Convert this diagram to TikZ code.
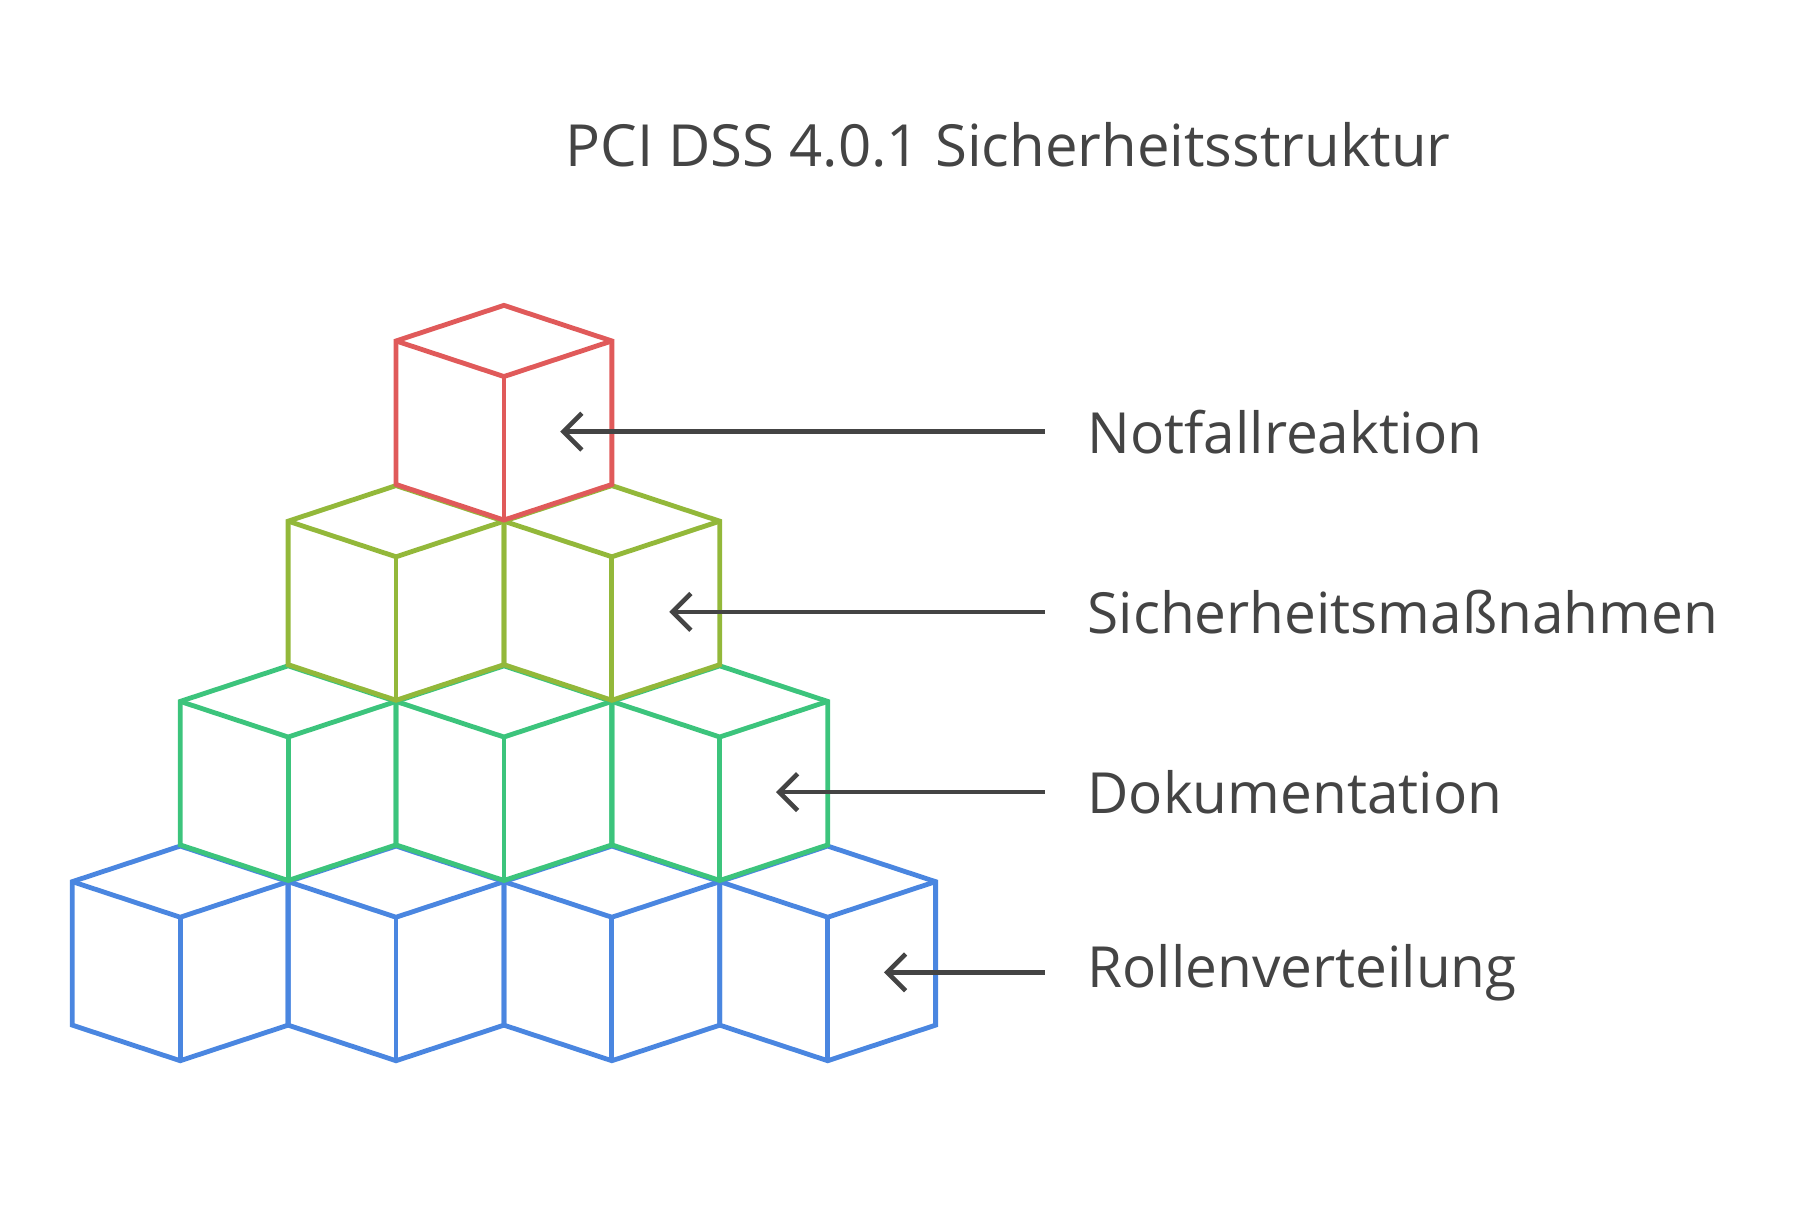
\documentclass[tikz,border=0pt]{standalone}
\usepackage{fontspec}
\setmainfont{Open Sans}
\usetikzlibrary{arrows.meta}
\definecolor{cred}{HTML}{E05A5A}
\definecolor{cyel}{HTML}{93B83A}
\definecolor{cgrn}{HTML}{3CC47C}
\definecolor{cblu}{HTML}{4A86E0}
\definecolor{txt}{HTML}{444444}
\begin{document}
\begin{tikzpicture}[x=0.5pt,y=-0.5pt,
  cubeline/.style={line width=2.1pt,line join=miter},
  lbl/.style={anchor=west,text=txt,font=\fontsize{24.7}{29}\selectfont,inner sep=0pt},
  arr/.style={draw=txt,line width=2pt,-{Straight Barb[length=8pt,width=16pt,line width=2pt]}}]
\useasboundingbox (0,0) rectangle (1568,1050);
\newcommand\cube[3]{% x, top y, colour
  \draw[cubeline,#3] (#1,#2) -- ++(94,31) -- ++(0,125) -- ++(-94,31) -- ++(-94,-31) -- ++(0,-125) -- cycle;
  \draw[cubeline,#3] (#1-94,#2+31) -- (#1,#2+62) -- (#1+94,#2+31);
  \draw[cubeline,#3] (#1,#2+62) -- (#1,#2+187);}
\foreach \x in {157,345,533,721} {\cube{\x}{737}{cblu}}
\foreach \x in {251,439,627} {\cube{\x}{580}{cgrn}}
\foreach \x in {345,533} {\cube{\x}{423}{cyel}}
\cube{439}{266}{cred}
\node[text=txt,font=\fontsize{25.3}{29}\selectfont] (title) at (878,126) {PCI DSS 4.0.1 Sicherheitsstruktur};
\node[lbl] (l1) at (947,376) {Notfallreaktion};
\node[lbl] (l2) at (947,533) {Sicherheitsmaßnahmen};
\node[lbl] (l3) at (947,690) {Dokumentation};
\node[lbl] (l4) at (947,847) {Rollenverteilung};
\coordinate (t1) at (488,376);
\coordinate (t2) at (583,533);
\coordinate (t3) at (676,690);
\coordinate (t4) at (770,847);
\draw[arr] (910,376) -- (t1);
\draw[arr] (910,533) -- (t2);
\draw[arr] (910,690) -- (t3);
\draw[arr] (910,847) -- (t4);
\end{tikzpicture}
\end{document}
